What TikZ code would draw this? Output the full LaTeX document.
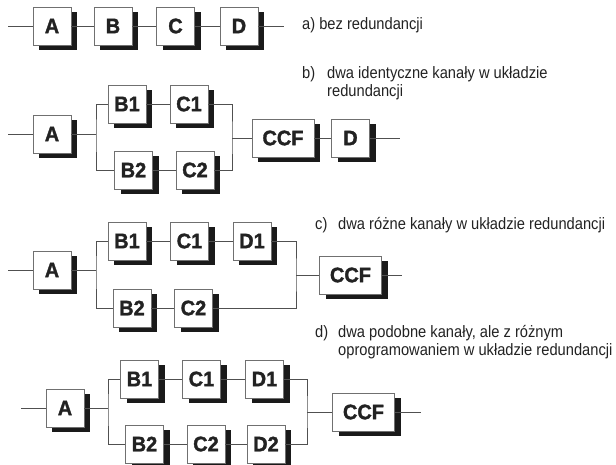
\documentclass[tikz,border=0pt]{standalone}
\usepackage{fontspec}
\setmainfont{Liberation Sans}[FakeStretch=0.89]
\newfontfamily\boxfont{Liberation Sans Bold}[FakeStretch=0.95, FakeBold=1.5]
\usetikzlibrary{shadows}
\definecolor{edge}{HTML}{707070}
\definecolor{wire}{HTML}{505050}
\definecolor{shade}{HTML}{1A1A1A}
\definecolor{ink}{HTML}{222222}
\tikzset{
  blk/.style={draw=edge, line width=0.7pt, fill=white,
    minimum width=38pt, minimum height=38pt, inner sep=0pt,
    font=\boxfont\fontsize{21}{24}\selectfont, text=ink,
    drop shadow={shadow xshift=6pt, shadow yshift=-5pt, fill=shade, opacity=1}},
  wideblk/.style={blk, minimum width=62pt},
  wire/.style={draw=wire, line width=0.7pt},
  caption/.style={anchor=base west, inner sep=0pt, text=ink,
    font=\fontsize{16.5}{18}\selectfont},
}
\begin{document}
\begin{tikzpicture}[x=1pt, y=-1pt]
\useasboundingbox (0,0) rectangle (616,465);

% ---- a) chain without redundancy
\coordinate (ain) at (8,26);
\coordinate (aout) at (284,26);
\node[blk] (aA) at (52,26) {A};
\node[blk] (aB) at (113,26) {B};
\node[blk] (aC) at (175.5,26) {C};
\node[blk] (aD) at (239,26) {D};
\draw[wire] (ain) -- (aA) -- (aB) -- (aC) -- (aD) -- (aout);
\node[caption] (capa) at (302,30) {a) bez redundancji};

% ---- b) two identical channels
\coordinate (bin) at (8,134);
\coordinate (bs) at (96,134);
\coordinate (bm) at (232,138);
\coordinate (bout) at (400,138);
\node[blk] (bA) at (52,134) {A};
\node[blk] (bB1) at (127,104) {B1};
\node[blk] (bC1) at (189,104) {C1};
\node[blk] (bB2) at (133.5,170) {B2};
\node[blk] (bC2) at (195,170) {C2};
\node[wideblk] (bCCF) at (283,138) {CCF};
\node[blk] (bD) at (350.5,138) {D};
\draw[wire] (bin) -- (bA) -- (bs);
\draw[wire] (bB1.west) -| (bs) |- (bB2.west);
\draw[wire] (bB1) -- (bC1);
\draw[wire] (bB2) -- (bC2);
\draw[wire] (bC1.east) -| (bm) |- (bC2.east);
\draw[wire] (bm) -- (bCCF) -- (bD) -- (bout);
\node[caption] (capbl) at (302,79) {b)};
\node[caption] (capb1) at (327,79) {dwa identyczne kanały w układzie};
\node[caption] (capb2) at (327,97) {redundancji};

% ---- c) two different channels
\coordinate (cin) at (8,270);
\coordinate (cs) at (96,270);
\coordinate (cm) at (296,275);
\coordinate (cout) at (402,275);
\node[blk] (cA) at (52,270) {A};
\node[blk] (cB1) at (127,241) {B1};
\node[blk] (cC1) at (189.5,241) {C1};
\node[blk] (cD1) at (252,241) {D1};
\node[blk] (cB2) at (132,308) {B2};
\node[blk] (cC2) at (193.5,308) {C2};
\node[wideblk] (cCCF) at (350.5,275) {CCF};
\draw[wire] (cin) -- (cA) -- (cs);
\draw[wire] (cB1.west) -| (cs) |- (cB2.west);
\draw[wire] (cB1) -- (cC1) -- (cD1);
\draw[wire] (cB2) -- (cC2);
\draw[wire] (cD1.east) -| (cm) |- (cC2.east);
\draw[wire] (cm) -- (cCCF) -- (cout);
\node[caption] (capcl) at (315,230) {c)};
\node[caption] (capc1) at (338,230) {dwa różne kanały w układzie redundancji};

% ---- d) similar channels, different software
\coordinate (din) at (21,408);
\coordinate (ds) at (108,408);
\coordinate (dm) at (307,412);
\coordinate (dout) at (421,412);
\node[blk] (dA) at (65,408) {A};
\node[blk] (dB1) at (139.5,379) {B1};
\node[blk] (dC1) at (201.5,379) {C1};
\node[blk] (dD1) at (264.5,379) {D1};
\node[blk] (dB2) at (144.5,444) {B2};
\node[blk] (dC2) at (206,444) {C2};
\node[blk] (dD2) at (266,444) {D2};
\node[wideblk] (dCCF) at (363.5,412) {CCF};
\draw[wire] (din) -- (dA) -- (ds);
\draw[wire] (dB1.west) -| (ds) |- (dB2.west);
\draw[wire] (dB1) -- (dC1) -- (dD1);
\draw[wire] (dB2) -- (dC2) -- (dD2);
\draw[wire] (dD1.east) -| (dm) |- (dD2.east);
\draw[wire] (dm) -- (dCCF) -- (dout);
\node[caption] (capdl) at (315,337) {d)};
\node[caption] (capd1) at (338,337) {dwa podobne kanały, ale z różnym};
\node[caption] (capd2) at (338,355) {oprogramowaniem w układzie redundancji};
\end{tikzpicture}
\end{document}
